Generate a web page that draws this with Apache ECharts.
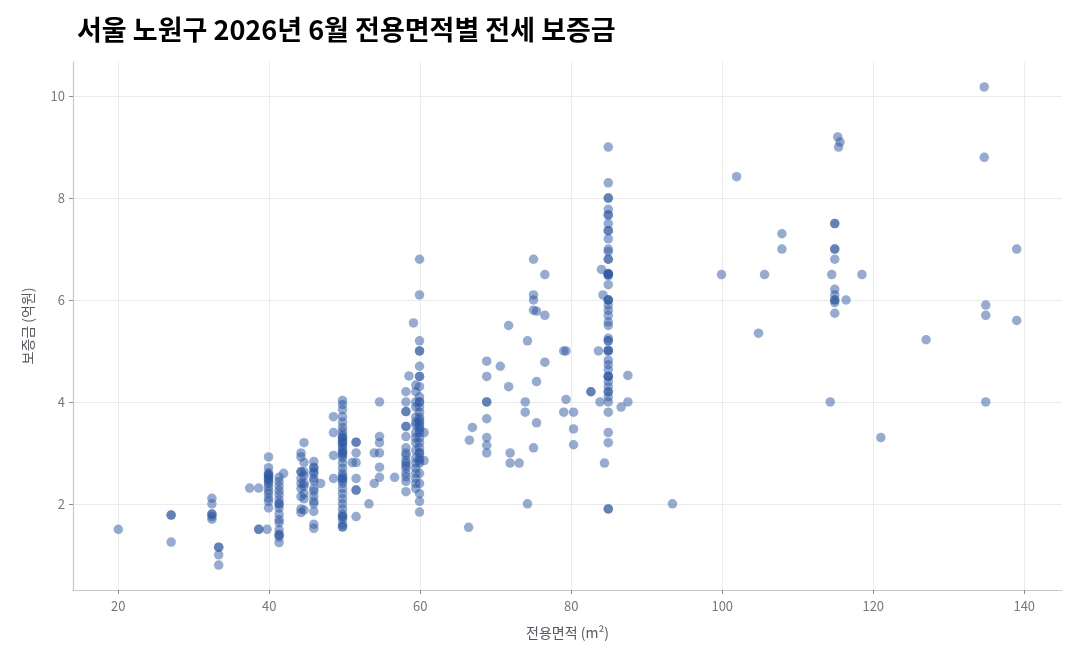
<!DOCTYPE html>
<html>
<head>
<meta charset="utf-8">
<title>서울 노원구 전세 보증금</title>
<script src="https://cdn.jsdelivr.net/npm/echarts@6/dist/echarts.min.js"></script>
<style>
  html, body { margin: 0; padding: 0; background: #fff; }
  #main { width: 1080px; height: 660px; }
</style>
</head>
<body>
<div id="main"></div>
<script>
// 전용면적 (m²) 그룹과 그룹별 보증금 (억원)
var areas = [
  20.0, 27.0, 32.4, 33.3, 37.4, 38.6, 39.7, 39.9, 41.3, 41.9,
  44.2, 44.6, 45.9, 46.8, 48.5, 49.7, 51.0, 51.5, 53.2, 53.9,
  54.6, 56.6, 58.1, 58.5, 59.1, 59.4, 59.9, 60.5, 66.4, 66.5,
  66.9, 68.8, 70.6, 71.7, 71.9, 73.1, 73.9, 74.2, 75.0, 75.4,
  76.5, 79.0, 79.3, 80.3, 82.6, 83.6, 83.8, 84.0, 84.2, 84.4,
  84.9, 86.6, 87.5, 93.4, 99.9, 101.9, 104.8, 105.6, 107.9, 114.3,
  114.5, 114.9, 115.3, 115.4, 115.6, 116.4, 118.5, 121.0, 127.0, 134.7,
  134.9, 139.0
];
var deposits = [
  [1.5],
  [1.78, 1.78, 1.25],
  [2.11, 2.0, 1.8, 1.8, 1.75, 1.7],
  [1.15, 1.15, 1.0, 0.8],
  [2.31],
  [2.31, 1.5, 1.5],
  [1.5],
  [2.92, 2.71, 2.61, 2.58, 2.55, 2.55, 2.5, 2.48, 2.44, 2.4, 2.34, 2.26, 2.2, 2.11, 2.05, 1.92],
  [2.52, 2.44, 2.35, 2.26, 2.18, 2.08, 2.0, 2.0, 1.92, 1.8, 1.69, 1.63, 1.49, 1.4, 1.39, 1.35, 1.24],
  [2.6],
  [3.0, 2.92, 2.63, 2.63, 2.5, 2.4, 2.3, 2.14, 1.9, 1.83],
  [3.2, 2.81, 2.63, 2.55, 2.4, 2.35, 2.2, 2.1, 1.88],
  [2.83, 2.72, 2.7, 2.63, 2.6, 2.5, 2.45, 2.3, 2.25, 2.15, 2.05, 2.0, 1.85, 1.6, 1.52],
  [2.4],
  [3.71, 3.4, 2.95, 2.5],
  [4.03, 3.95, 3.85, 3.71, 3.6, 3.5, 3.42, 3.35, 3.3, 3.3, 3.25, 3.2, 3.2, 3.15, 3.1, 3.05, 3.0, 3.0,
   2.95, 2.9, 2.8, 2.7, 2.6, 2.55, 2.5, 2.5, 2.45, 2.4, 2.3, 2.2, 2.1, 2.0, 1.9, 1.8, 1.75, 1.75,
   1.7, 1.6, 1.55, 1.55],
  [2.81],
  [3.21, 3.21, 3.0, 2.81, 2.5, 2.27, 2.27, 1.75],
  [2.0],
  [3.0, 2.4],
  [4.0, 3.32, 3.2, 3.0, 2.72, 2.52],
  [2.52],
  [4.2, 4.0, 3.81, 3.81, 3.52, 3.52, 3.32, 3.1, 3.0, 2.95, 2.85, 2.8, 2.75, 2.7, 2.6, 2.53, 2.44, 2.24],
  [4.51],
  [5.55],
  [4.33, 4.2, 4.0, 3.9, 3.7, 3.6, 3.55, 3.4, 3.3, 3.2, 3.05, 2.9, 2.8, 2.7, 2.6, 2.5, 2.4, 2.3],
  [6.8, 6.1, 5.2, 5.0, 5.0, 4.7, 4.5, 4.5, 4.3, 4.1, 4.0, 4.0, 3.9, 3.8, 3.7, 3.65, 3.6, 3.55, 3.5,
   3.45, 3.4, 3.3, 3.2, 3.1, 3.0, 3.0, 2.9, 2.85, 2.8, 2.6, 2.4, 2.2, 2.05, 1.84],
  [3.4, 2.85],
  [1.54],
  [3.25],
  [3.5],
  [4.8, 4.5, 4.0, 4.0, 3.67, 3.3, 3.15, 3.0],
  [4.7],
  [5.5, 4.3],
  [3.0, 2.8],
  [2.8],
  [4.0, 3.8],
  [5.2, 2.0],
  [6.8, 6.1, 6.0, 5.8, 3.1],
  [5.78, 4.4, 3.59],
  [6.5, 5.7, 4.78],
  [5.0, 3.8],
  [5.0, 4.05],
  [3.8, 3.47, 3.16],
  [4.2, 4.2],
  [5.0],
  [4.0],
  [6.6],
  [6.1],
  [2.8],
  [9.0, 8.3, 8.0, 8.0, 7.78, 7.67, 7.67, 7.5, 7.36, 7.36, 7.2, 7.0, 6.95, 6.8, 6.8, 6.52, 6.52,
   6.5, 6.5, 6.48, 6.3, 6.0, 6.0, 6.0, 5.9, 5.8, 5.7, 5.57, 5.5, 5.25, 5.2, 5.2, 5.02, 5.0, 5.0,
   4.82, 4.73, 4.63, 4.5, 4.5, 4.5, 4.4, 4.3, 4.2, 4.2, 4.1, 4.0, 3.8, 3.4, 3.2, 1.9, 1.9],
  [3.9],
  [4.52, 4.0],
  [2.0],
  [6.5],
  [8.42],
  [5.35],
  [6.5],
  [7.3, 7.0],
  [4.0],
  [6.5],
  [7.5, 7.5, 7.0, 7.0, 6.8, 6.21, 6.1, 6.0, 6.0, 5.95, 5.74],
  [9.2],
  [9.0],
  [9.1],
  [6.0],
  [6.5],
  [3.3],
  [5.22],
  [10.18, 8.8],
  [5.9, 5.7, 4.0],
  [7.0, 5.6]
];

var points = [];
for (var i = 0; i < areas.length; i++) {
  for (var j = 0; j < deposits[i].length; j++) {
    points.push([areas[i], deposits[i][j]]);
  }
}

var myChart = echarts.init(document.getElementById('main'));
var axisGray = '#737883';
var font = '"Noto Sans CJK KR", "Noto Sans", sans-serif';

var option = {
  backgroundColor: '#ffffff',
  animation: false,
  textStyle: { fontFamily: font },
  title: {
    text: '서울 노원구 2026년 6월 전용면적별 전세 보증금',
    left: 72,
    top: 11,
    textStyle: { fontFamily: font, fontSize: 27, fontWeight: 'bold', color: '#000' }
  },
  grid: { left: 73, right: 18, top: 62, bottom: 70 },
  xAxis: {
    type: 'value',
    min: 14,
    max: 145,
    splitNumber: 6,
    name: '전용면적 (m²)',
    nameLocation: 'middle',
    nameGap: 36,
    nameTextStyle: { color: '#555a63', fontSize: 14 },
    axisLine: { show: true, onZero: false, lineStyle: { color: '#c4c7cf', width: 1.2 } },
    axisTick: { show: true, length: 4, lineStyle: { color: '#8a8e96' } },
    axisLabel: { color: axisGray, fontSize: 13, margin: 10, showMinLabel: false, showMaxLabel: false },
    splitLine: { show: true, showMinLine: false, showMaxLine: false, lineStyle: { color: '#ebebeb', width: 1 } }
  },
  yAxis: {
    type: 'value',
    min: 0.31,
    max: 10.67,
    splitNumber: 5,
    name: '보증금 (억원)',
    nameLocation: 'middle',
    nameGap: 38,
    nameTextStyle: { color: '#555a63', fontSize: 14 },
    axisLine: { show: true, onZero: false, lineStyle: { color: '#c4c7cf', width: 1.2 } },
    axisTick: { show: true, length: 4, lineStyle: { color: '#8a8e96' } },
    axisLabel: { color: axisGray, fontSize: 13, margin: 8, showMinLabel: false, showMaxLabel: false },
    splitLine: { show: true, showMinLine: false, showMaxLine: false, lineStyle: { color: '#ebebeb', width: 1 } }
  },
  series: [{
    type: 'scatter',
    data: points,
    symbol: 'circle',
    symbolSize: 9.5,
    itemStyle: { color: '#2b58a3', opacity: 0.5 }
  }]
};
myChart.setOption(option);
</script>
</body>
</html>
